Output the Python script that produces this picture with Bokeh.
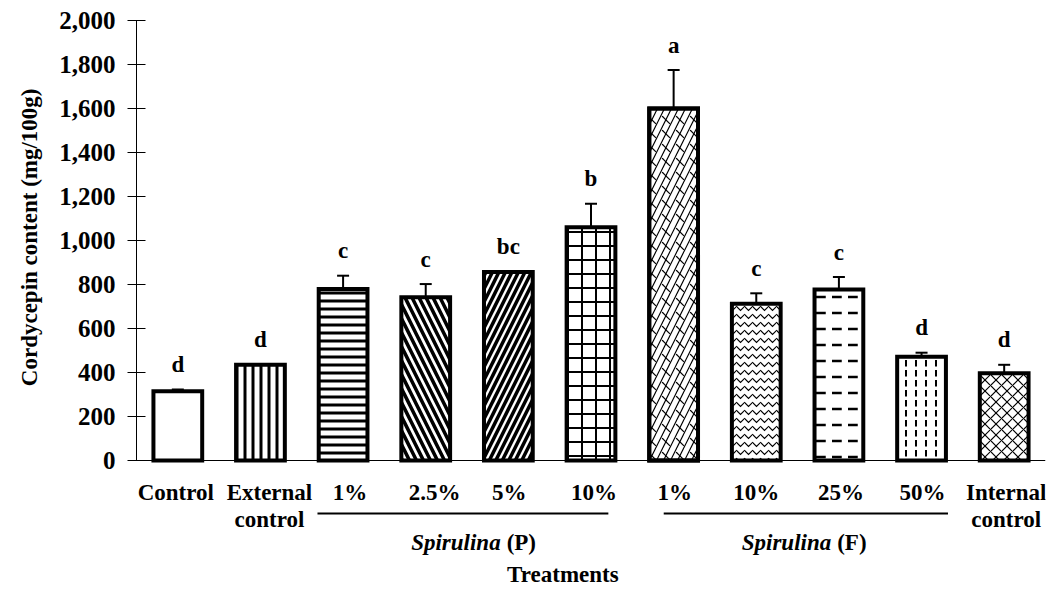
from bokeh.plotting import figure
from bokeh.models import (ColumnDataSource, Range1d, FixedTicker, NumeralTickFormatter,
                          Whisker, TeeHead, Span, Title)
from bokeh.core.properties import value
from bokeh.embed import file_html
from bokeh.resources import INLINE

# ---------------- data ----------------
categories = ["Control", "External\ncontrol", "1%", "2.5%", "5%", "10%",
              "1%", "10%", "25%", "50%", "Internal\ncontrol"]
values = [315, 435, 780, 742, 857, 1060, 1600, 712, 777, 472, 397]
errors = [8, 0, 60, 60, 0, 107, 175, 48, 57, 18, 38]
letters = ["d", "d", "c", "c", "bc", "b", "a", "c", "c", "d", "d"]
y_ticks = [0, 200, 400, 600, 800, 1000, 1200, 1400, 1600, 1800, 2000]
group_prefix = "Spirulina"
group_suffix = ["(P)", "(F)"]
group_first = [2, 6]
group_last = [5, 9]
y_title = "Cordycepin content (mg/100g)"
x_title = "Treatments"

# ---------------- styles ----------------
hatch_patterns = [" ", "|", "-", "\\", "/", "+", "/", "v", '"', ":", "x"]
hatch_scales = [8, 8, 8, 14, 13, 14, 14, 8, 16, 10, 11]
hatch_weights = [1, 3, 3, 3.5, 3.5, 2, 1.2, 1.2, 2.5, 2, 1.2]
label_nudge = [-2, 9, 7, 9, 1, 3, 1, 0, 2, 1, 2]

FONT = value("Liberation Serif")
PX = 0.22   # pixels per data unit (vertical), for layout offsets
TB = 8      # baseline correction in pixels for text glyphs

xs = list(range(len(categories)))
src = ColumnDataSource(dict(x=xs, top=values, hp=hatch_patterns, hs=hatch_scales, hw=hatch_weights))

p = figure(width=1057, height=589, output_backend="svg", toolbar_location=None,
           x_range=Range1d(-0.5, len(categories) - 0.5), y_range=Range1d(-129 / PX, 2000),
           x_axis_location=None, min_border_left=136, min_border_right=12,
           min_border_top=20, min_border_bottom=0)
p.outline_line_color = None
p.xgrid.visible = False
p.ygrid.visible = False
p.background_fill_color = "white"
p.border_fill_color = "white"

yax = p.yaxis[0]
yax.bounds = (0, 2000)
yax.ticker = FixedTicker(ticks=y_ticks)
yax.formatter = NumeralTickFormatter(format="0,0")
yax.major_tick_in = 9
yax.major_tick_out = 9
yax.minor_tick_line_color = None
yax.axis_line_color = "black"
yax.major_tick_line_color = "black"
yax.major_label_standoff = 12
yax.major_label_text_font = "Liberation Serif"
yax.major_label_text_font_style = "bold"
yax.major_label_text_font_size = "25px"
yax.major_label_text_color = "black"

# y-axis title as a left-side title
p.add_layout(Title(text=y_title, align="right", offset=68, standoff=29,
                   text_font="Liberation Serif", text_font_style="bold",
                   text_font_size="23px", text_color="black"), "left")

# baseline
p.add_layout(Span(location=0, dimension="width", line_color="black", line_width=1))

# bars
p.vbar(x="x", top="top", bottom=0, width=0.59, source=src, fill_color="white",
       line_color="black", line_width=4, line_join="miter",
       hatch_pattern="hp", hatch_scale="hs", hatch_weight="hw", hatch_color="black")
# brick-like overlay for Spirulina (F) 1%
bi = 6
p.vbar(x=[bi], top=[values[bi]], bottom=0, width=0.59, fill_color=None, line_color=None,
       hatch_pattern="`", hatch_scale=14, hatch_weight=1.2, hatch_color="black")
p.vbar(x=[bi], top=[values[bi]], bottom=0, width=0.59, fill_color=None,
       line_color="black", line_width=4, line_join="miter")

# error bars
ex = [x for x, e in zip(xs, errors) if e > 0]
ev = [v for v, e in zip(values, errors) if e > 0]
ee = [e for e in errors if e > 0]
esrc = ColumnDataSource(dict(x=ex, up=[v + e for v, e in zip(ev, ee)], lo=[v - e for v, e in zip(ev, ee)]))
w = Whisker(source=esrc, base="x", upper="up", lower="lo", line_width=2, line_color="black",
            upper_head=TeeHead(size=12, line_width=2, line_color="black"),
            lower_head=TeeHead(size=12, line_width=2, line_color="black"))
p.add_layout(w)

# significance letters
p.text(x=xs, y=[v + e + (17 + TB) / PX for v, e in zip(values, errors)], text=letters,
       text_font=FONT, text_font_style="bold", text_font_size="23px",
       text_align="center", text_baseline="alphabetic", text_color="black")

# category labels (one or two lines)
line1 = [c.split("\n")[0] for c in categories]
line2 = [c.split("\n")[1] if "\n" in c else "" for c in categories]
lsrc = ColumnDataSource(dict(x=xs, l1=line1, l2=line2, dx=label_nudge))
p.text(x="x", y=-(40 - TB) / PX, text="l1", x_offset="dx", source=lsrc, text_font=FONT,
       text_font_style="bold", text_font_size="23px", text_align="center",
       text_baseline="alphabetic", text_color="black")
p.text(x="x", y=-(67 - TB) / PX, text="l2", x_offset="dx", source=lsrc, text_font=FONT,
       text_font_style="bold", text_font_size="23px", text_align="center",
       text_baseline="alphabetic", text_color="black")

# group underlines and labels
p.segment(x0=[group_first[0] - 0.31, group_first[1] - 0.12], y0=[-53 / PX] * 2,
          x1=[group_last[0] + 0.21, group_last[1] + 0.32], y1=[-53 / PX] * 2,
          line_color="black", line_width=2)
gc = [(f + l) / 2 + 0.08 for f, l in zip(group_first, group_last)]
p.text(x=gc, y=[-(90 - TB) / PX] * 2, text=[group_prefix] * 2, text_font=FONT,
       text_font_style="bold italic", text_font_size="23px", text_align="right",
       text_baseline="alphabetic", x_offset=27, text_color="black")
p.text(x=gc, y=[-(90 - TB) / PX] * 2, text=group_suffix, text_font=FONT,
       text_font_style="bold", text_font_size="23px", text_align="left",
       text_baseline="alphabetic", x_offset=33, text_color="black")

# x-axis title
p.text(x=[4.66], y=[-(122 - TB) / PX], text=[x_title], text_font=FONT, text_font_style="bold",
       text_font_size="23px", text_align="center", text_baseline="alphabetic", text_color="black")

open("out.html", "w").write(file_html(p, INLINE))
